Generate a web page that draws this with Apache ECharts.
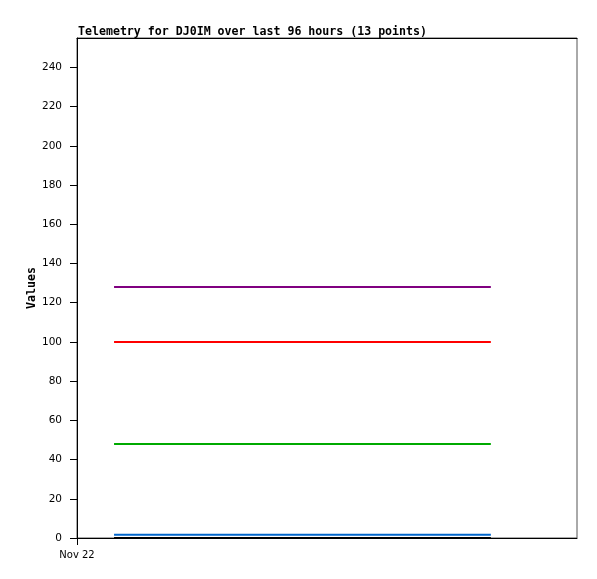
<!DOCTYPE html>
<html><head><meta charset="utf-8">
<script src="https://cdn.jsdelivr.net/npm/echarts@6/dist/echarts.min.js"></script>
<style>html,body{margin:0;padding:0;background:#fff}#c{width:597px;height:579px}</style>
</head><body><div id="c"></div>
<script>
// hours since Nov 22 00:00
var hours = [8.3, 15.3, 22.4, 29.4, 36.4, 43.5, 50.5, 57.5, 64.6, 71.6, 78.6, 85.7, 92.7];
var purpleVals = [128,128,128,128,128,128,128,128,128,128,128,128,128];
var redVals = [100,100,100,100,100,100,100,100,100,100,100,100,100];
var greenVals = [48,48,48,48,48,48,48,48,48,48,48,48,48];
var blueVals = [1.6,1.6,1.6,1.6,1.6,1.6,1.6,1.6,1.6,1.6,1.6,1.6,1.6];
var blackVals = [0,0,0,0,0,0,0,0,0,0,0,0,0];
var xTickValues = [0];
var xTickLabels = ['Nov 22'];
var yTicks = [0,20,40,60,80,100,120,140,160,180,200,220,240];

function pairs(v){ return hours.map(function(h,i){ return [h, v[i]]; }); }
function line(name, color, v){
  return {name:name, type:'line', data:pairs(v), symbol:'none', animation:false,
    lineStyle:{color:color, width:2}, itemStyle:{color:color}};
}
var chart = echarts.init(document.getElementById('c'));
chart.setOption({
  animation:false,
  title:{text:'Telemetry for DJ0IM over last 96 hours (13 points)', left:73, top:21,
    textStyle:{fontFamily:'DejaVu Sans Mono', fontWeight:'bold', fontSize:11.6, color:'#000'}},
  grid:{left:77, top:38, right:20, bottom:41, show:true, borderColor:'#555', borderWidth:1, backgroundColor:'#fff'},
  xAxis:[{type:'value', min:0, max:112,
    axisLine:{lineStyle:{color:'#000'}},
    axisTick:{show:true, length:7, customValues:xTickValues, lineStyle:{color:'#000'}},
    splitLine:{show:false},
    axisLabel:{margin:12, color:'#000', fontFamily:'DejaVu Sans', fontSize:10, customValues:xTickValues,
      formatter:function(v){ var i = xTickValues.indexOf(v); return i >= 0 ? xTickLabels[i] : ''; }}},
    {type:'value', position:'top', min:0, max:112, axisLine:{show:true, lineStyle:{color:'#000'}},
     axisTick:{show:false}, axisLabel:{show:false}, splitLine:{show:false}}],
  yAxis:{type:'value', min:0, max:255, name:'Values', nameLocation:'middle', nameGap:39,
    nameMoveOverlap:false,
    nameTextStyle:{fontFamily:'DejaVu Sans Mono', fontWeight:'bold', fontSize:11.6, color:'#000'},
    axisLine:{show:true, lineStyle:{color:'#000'}},
    axisTick:{show:true, length:7, customValues:yTicks, lineStyle:{color:'#000'}},
    splitLine:{show:false},
    axisLabel:{margin:15, color:'#000', fontFamily:'DejaVu Sans', fontSize:10.5, customValues:yTicks,
      formatter:function(v){ return String(v); }}},
  series:[
    line('purple','#800080',purpleVals),
    line('red','#ff0000',redVals),
    line('green','#00aa00',greenVals),
    line('blue','#0066cc',blueVals),
    line('black','#000000',blackVals)
  ]
});
</script></body></html>
